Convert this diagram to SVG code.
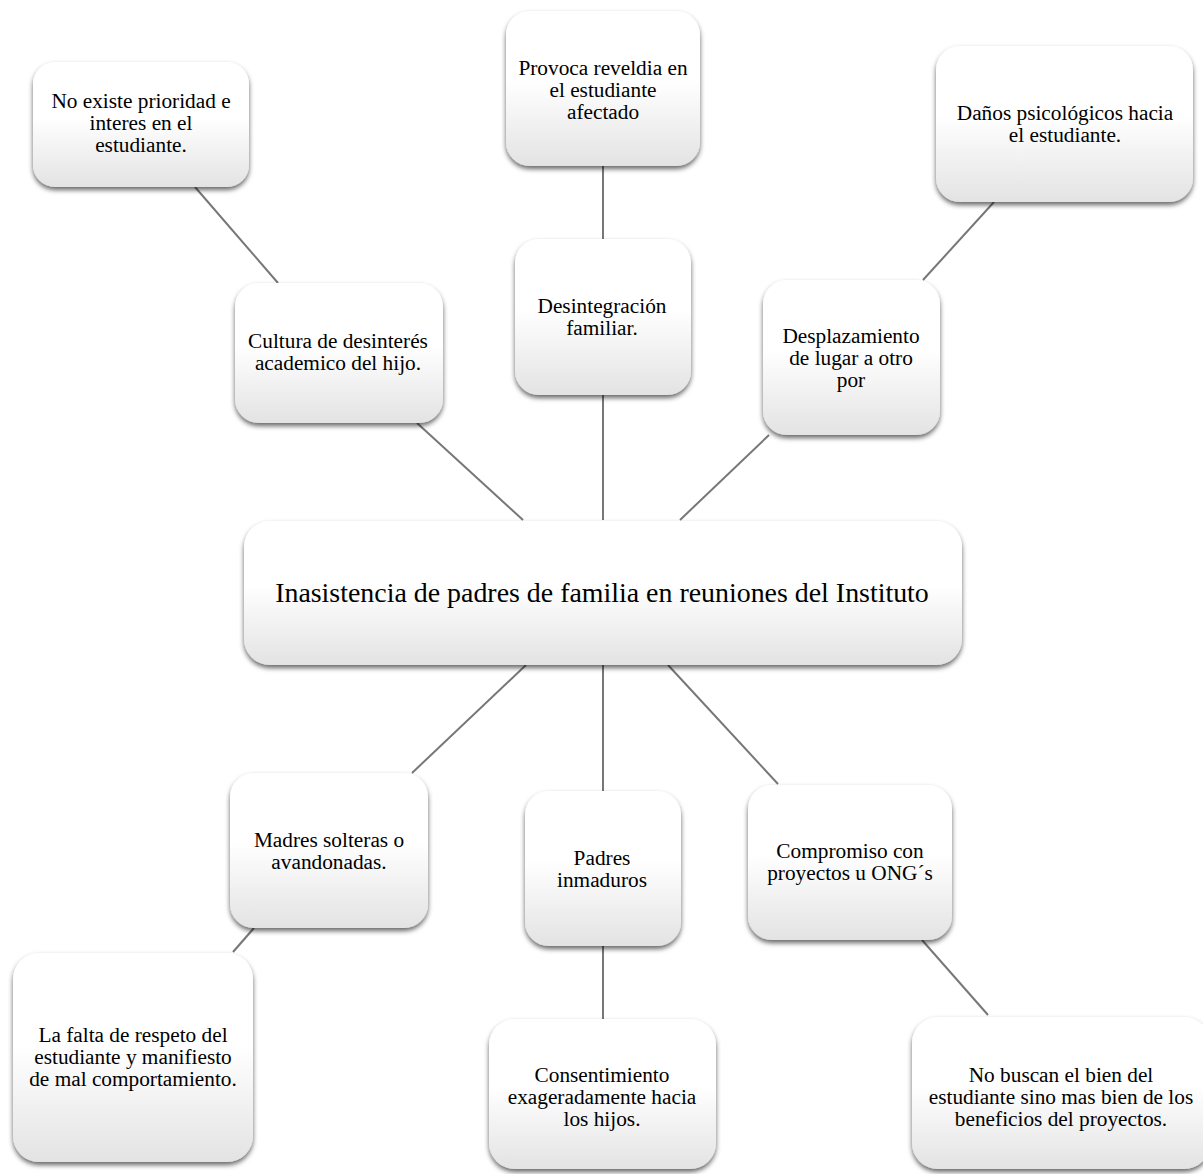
<svg xmlns="http://www.w3.org/2000/svg" width="1203" height="1174" viewBox="0 0 1203 1174">
<defs>
<linearGradient id="g" x1="0" y1="0" x2="0" y2="1">
<stop offset="0" stop-color="#ffffff"/>
<stop offset="0.45" stop-color="#ffffff"/>
<stop offset="1" stop-color="#e3e3e3"/>
</linearGradient>
<filter id="sh" x="-10%" y="-10%" width="120%" height="130%">
<feDropShadow dx="0" dy="3" stdDeviation="2.5" flood-color="#000" flood-opacity="0.6"/>
</filter>
</defs>
<style>
.box{fill:url(#g);filter:url(#sh);}
.t{font-family:"Liberation Serif","Times New Roman",serif;font-size:21.3px;fill:#000;text-anchor:middle;}
.tc{font-family:"Liberation Serif","Times New Roman",serif;font-size:27.9px;fill:#000;text-anchor:middle;}
.c line{stroke:#777777;stroke-width:2;}
</style>
<rect width="1203" height="1174" fill="#fff"/>
<g class="c" id="connectors">
<line x1="195" y1="187" x2="278" y2="283"/>
<line x1="603" y1="166" x2="603" y2="239"/>
<line x1="994" y1="202" x2="923" y2="280"/>
<line x1="417" y1="423" x2="523" y2="520"/>
<line x1="603" y1="395" x2="603" y2="520"/>
<line x1="769" y1="435" x2="680" y2="520"/>
<line x1="526" y1="665" x2="412" y2="773"/>
<line x1="603" y1="665" x2="603" y2="791"/>
<line x1="668" y1="665" x2="778" y2="784"/>
<line x1="254" y1="928" x2="233" y2="952"/>
<line x1="603" y1="946" x2="603" y2="1019"/>
<line x1="922" y1="940" x2="988" y2="1015"/>
</g>
<g id="n1"><rect class="box" x="33" y="62" width="216" height="125" rx="22"/>
<text class="t" x="141" y="108">No existe prioridad e</text><text class="t" x="141" y="130">interes en el</text><text class="t" x="141" y="152">estudiante.</text></g>
<g id="n2"><rect class="box" x="506" y="11" width="194" height="155" rx="24"/>
<text class="t" x="603" y="75">Provoca reveldia en</text><text class="t" x="603" y="97">el estudiante</text><text class="t" x="603" y="119">afectado</text></g>
<g id="n3"><rect class="box" x="936" y="46" width="257" height="156" rx="24"/>
<text class="t" x="1065" y="120">Daños psicológicos hacia</text><text class="t" x="1065" y="142">el estudiante.</text></g>
<g id="n4"><rect class="box" x="235" y="283" width="208" height="140" rx="24"/>
<text class="t" x="338" y="348">Cultura de desinterés</text><text class="t" x="338" y="370">academico del hijo.</text></g>
<g id="n5"><rect class="box" x="515" y="239" width="176" height="156" rx="24"/>
<text class="t" x="602" y="313">Desintegración</text><text class="t" x="602" y="335">familiar.</text></g>
<g id="n6"><rect class="box" x="763" y="280" width="177" height="155" rx="24"/>
<text class="t" x="851" y="343">Desplazamiento</text><text class="t" x="851" y="365">de lugar a otro</text><text class="t" x="851" y="387">por</text></g>
<g id="center"><rect class="box" x="244" y="521" width="718" height="144" rx="26"/>
<text class="tc" x="602" y="602">Inasistencia de padres de familia en reuniones del Instituto</text></g>
<g id="n7"><rect class="box" x="230" y="773" width="198" height="155" rx="24"/>
<text class="t" x="329" y="847">Madres solteras o</text><text class="t" x="329" y="869">avandonadas.</text></g>
<g id="n8"><rect class="box" x="525" y="791" width="156" height="155" rx="24"/>
<text class="t" x="602" y="865">Padres</text><text class="t" x="602" y="887">inmaduros</text></g>
<g id="n9"><rect class="box" x="748" y="785" width="204" height="155" rx="24"/>
<text class="t" x="850" y="858">Compromiso con</text><text class="t" x="850" y="880">proyectos u ONG´s</text></g>
<g id="n10"><rect class="box" x="13" y="953" width="240" height="209" rx="26"/>
<text class="t" x="133" y="1042">La falta de respeto del</text><text class="t" x="133" y="1064">estudiante y manifiesto</text><text class="t" x="133" y="1086">de mal comportamiento.</text></g>
<g id="n11"><rect class="box" x="489" y="1019" width="227" height="150" rx="26"/>
<text class="t" x="602" y="1082">Consentimiento</text><text class="t" x="602" y="1104">exageradamente hacia</text><text class="t" x="602" y="1126">los hijos.</text></g>
<g id="n12"><rect class="box" x="912" y="1017" width="298" height="152" rx="26"/>
<text class="t" x="1061" y="1082">No buscan el bien del</text><text class="t" x="1061" y="1104">estudiante sino mas bien de los</text><text class="t" x="1061" y="1126">beneficios del proyectos.</text></g>
</svg>
